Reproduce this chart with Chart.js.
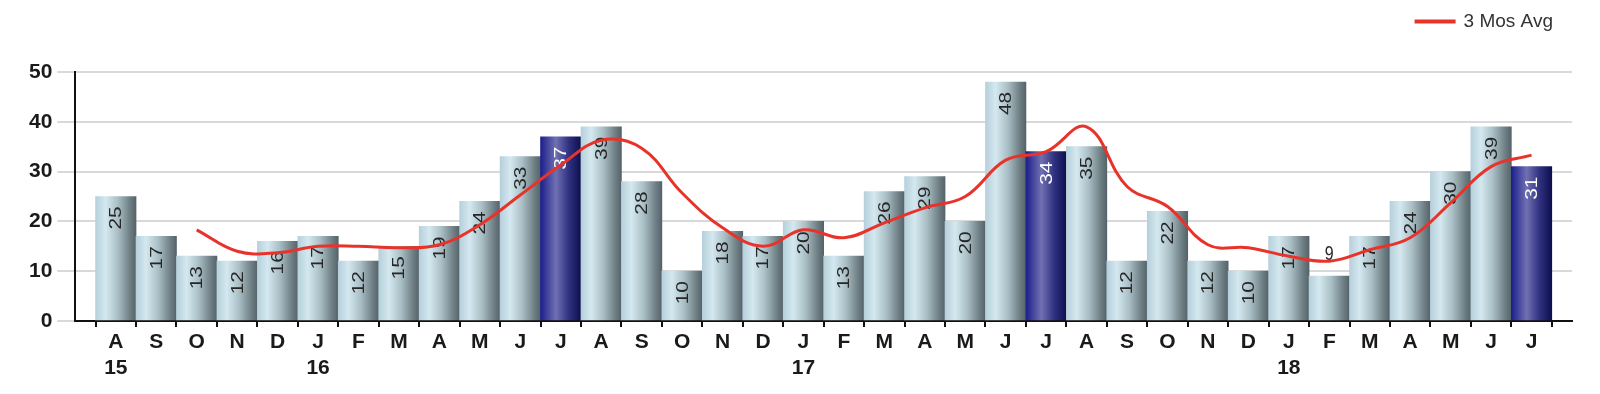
<!DOCTYPE html>
<html>
<head>
<meta charset="utf-8">
<script src="https://cdn.jsdelivr.net/npm/chart.js@4.4.0/dist/chart.umd.min.js"></script>
<style>
  body { margin: 0; background: #fff; }
  #wrap { width: 1600px; height: 394px; }
</style>
</head>
<body>
<div id="wrap"><canvas id="volume"></canvas></div>
<script>
// months Aug 2015 .. Jul 2018
var months = ['A','S','O','N','D','J','F','M','A','M','J','J',
              'A','S','O','N','D','J','F','M','A','M','J','J',
              'A','S','O','N','D','J','F','M','A','M','J','J'];
var years = {0: '15', 5: '16', 17: '17', 29: '18'};
var counts = [25,17,13,12,16,17,12,15,19,24,33,37,
              39,28,10,18,17,20,13,26,29,20,48,34,
              35,12,22,12,10,17,9,17,24,30,39,31];
var avg3 = [null,null,18.3,14,13.7,15,15,14.7,15.3,19.3,25.3,31.3,
            36.3,34.7,25.7,18.7,15,18.3,16.7,19.7,22.7,25,32.3,34,
            39,27,23,15.3,14.7,13,12,14.3,16.7,23.7,31,33.3];
var yTicks = [0,10,20,30,40,50];
var darkMonths = [11, 23, 35]; // the Julys

function barFill(context) {
	var chart = context.chart;
	var xs = chart.scales.x;
	var dark = darkMonths.indexOf(context.dataIndex) >= 0;
	if (!xs || !chart.chartArea) return dark ? '#3a3c9a' : '#a9c2cb';
	var cx = xs.getPixelForValue(context.dataIndex + 1);
	var half = (xs.getPixelForValue(1) - xs.getPixelForValue(0)) / 2;
	var g = chart.ctx.createLinearGradient(cx - half, 0, cx + half, 0);
	if (dark) {
		g.addColorStop(0, '#1c1f8c');
		g.addColorStop(0.38, '#7070b2');
		g.addColorStop(0.7, '#2f3180');
		g.addColorStop(1, '#0e0f4e');
	} else {
		g.addColorStop(0, '#b6d0db');
		g.addColorStop(0.25, '#d4e8f0');
		g.addColorStop(0.55, '#a9bec5');
		g.addColorStop(0.85, '#6e7f84');
		g.addColorStop(1, '#54636a');
	}
	return g;
}

// value labels on the bars, drawn before the line so the line sits on top
// (the original digits are tall and narrow, hence the 1.3 stretch)
var barLabels = {
	id: 'barLabels',
	afterDatasetDraw: function(chart, args) {
		if (args.index !== 0) return;
		var ctx = chart.ctx;
		var meta = args.meta;
		ctx.save();
		ctx.font = '16px "Liberation Sans", Arial, sans-serif';
		meta.data.forEach(function(bar, i) {
			var v = counts[i];
			ctx.fillStyle = darkMonths.indexOf(i) >= 0 ? '#ffffff' : '#262626';
			ctx.save();
			if (v < 10) {
				ctx.translate(bar.x, bar.y - 11);
				ctx.scale(1, 1.3);
				ctx.textAlign = 'center';
				ctx.textBaseline = 'bottom';
				ctx.fillText(String(v), 0, 0);
			} else {
				ctx.translate(bar.x, bar.y + 10);
				ctx.rotate(-Math.PI / 2);
				ctx.scale(1.3, 1);
				ctx.textAlign = 'right';
				ctx.textBaseline = 'middle';
				ctx.fillText(String(v), 0, 1);
			}
			ctx.restore();
		});
		ctx.restore();
	}
};

var barPoints = counts.map(function(v, i) { return {x: i + 1, y: v}; });
var avgPoints = avg3.map(function(v, i) { return {x: i + 1, y: v}; });

var config = {
	type: 'bar',
	data: {
		datasets: [{
			type: 'bar',
			label: 'Count',
			data: barPoints,
			backgroundColor: barFill,
			borderWidth: 0,
			barPercentage: 1,
			categoryPercentage: 1,
			order: 2
		}, {
			type: 'line',
			label: '3 Mos Avg',
			data: avgPoints,
			borderColor: '#e8332b',
			backgroundColor: '#e8332b',
			borderWidth: 3,
			pointRadius: 0,
			tension: 0.4,
			fill: false,
			order: 1
		}]
	},
	options: {
		responsive: true,
		maintainAspectRatio: false,
		animation: false,
		layout: {
			padding: {left: 24, right: 28, top: -7, bottom: 11}
		},
		plugins: {
			legend: {
				position: 'top',
				align: 'end',
				weight: 3000,
				labels: {
					filter: function(item) { return item.text === '3 Mos Avg'; },
					boxWidth: 38,
					boxHeight: 1,
					padding: 19,
					color: '#333',
					font: {family: '"Liberation Sans", Arial, sans-serif', size: 19}
				}
			},
			title: {
				display: true,
				text: '',
				padding: 0,
				font: {size: 31, lineHeight: 1}
			},
			tooltip: {enabled: false}
		},
		scales: {
			x: {
				type: 'linear',
				min: 0,
				max: 37,
				offset: false,
				grid: {
					drawOnChartArea: false,
					drawTicks: true,
					tickLength: 6,
					color: '#111',
					lineWidth: 2
				},
				border: {display: true, color: '#111', width: 2},
				ticks: {
					stepSize: 1,
					autoSkip: false,
					maxRotation: 0,
					padding: 2,
					color: '#1a1a1a',
					font: {family: '"Liberation Sans", Arial, sans-serif', size: 21, weight: 'bold', lineHeight: 1.24},
					callback: function(value) {
						var i = value - 1;
						if (i < 0 || i >= months.length) return '';
						return years[i] ? [months[i], years[i]] : months[i];
					}
				}
			},
			y: {
				min: yTicks[0],
				max: yTicks[yTicks.length - 1],
				grid: {
					color: '#d9d9d9',
					lineWidth: 2,
					tickLength: 18
				},
				border: {display: true, color: '#111', width: 2},
				afterBuildTicks: function(axis) {
					axis.ticks = yTicks.map(function(v) { return {value: v}; });
				},
				ticks: {
					padding: 5,
					color: '#1a1a1a',
					font: {family: '"Liberation Sans", Arial, sans-serif', size: 21, weight: 'bold'}
				}
			}
		}
	},
	plugins: [barLabels]
};

var chart = new Chart(document.getElementById('volume'), config);
</script>
</body>
</html>
